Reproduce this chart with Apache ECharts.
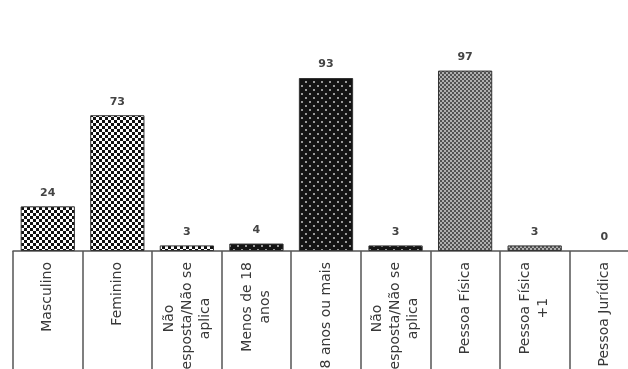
<!DOCTYPE html>
<html>
<head>
<meta charset="utf-8">
<script src="https://cdn.jsdelivr.net/npm/echarts@6/dist/echarts.min.js"></script>
<style>
  html, body { margin: 0; padding: 0; background: #fff; }
  #chart { width: 628px; height: 369px; }
</style>
</head>
<body>
<div id="chart"></div>
<script>
// Respondent profile: gender, age group and person type
const categories = [
  'Masculino',
  'Feminino',
  'Não\nresposta/Não se\naplica',
  'Menos de 18\nanos',
  '18 anos ou mais',
  'Não\nresposta/Não se\naplica',
  'Pessoa Física',
  'Pessoa Física\n+1',
  'Pessoa Jurídica'
];
const values = [24, 73, 3, 4, 93, 3, 97, 3, 0];
// Which fill pattern each category uses (0 = gender, 1 = age, 2 = person type)
const groups = [0, 0, 0, 1, 1, 1, 2, 2, 2];

// Tiled fill patterns drawn on small canvases
function makeTile(size, draw) {
  const c = document.createElement('canvas');
  c.width = size; c.height = size;
  draw(c.getContext('2d'));
  return { image: c, repeat: 'repeat' };
}
const patterns = [
  // black / white checkerboard
  makeTile(6, ctx => {
    ctx.fillStyle = '#ffffff'; ctx.fillRect(0, 0, 6, 6);
    ctx.fillStyle = '#111111';
    ctx.fillRect(0, 0, 3, 3); ctx.fillRect(3, 3, 3, 3);
  }),
  // black with staggered light dots
  makeTile(8, ctx => {
    ctx.fillStyle = '#141414'; ctx.fillRect(0, 0, 8, 8);
    ctx.fillStyle = '#9a9a9a';
    ctx.fillRect(1, 1, 2, 2); ctx.fillRect(5, 5, 2, 2);
  }),
  // fine grey checker
  makeTile(4, ctx => {
    ctx.fillStyle = '#b0b0b0'; ctx.fillRect(0, 0, 4, 4);
    ctx.fillStyle = '#525252';
    ctx.fillRect(0, 0, 2, 2); ctx.fillRect(2, 2, 2, 2);
  })
];

// Center each line of a multi-line label inside its block
function labelFormatter(v) {
  return v.split('\n').map(s => '{c|' + s + '}').join('\n');
}

const chart = echarts.init(document.getElementById('chart'), null, { renderer: 'canvas' });
chart.setOption({
  animation: false,
  backgroundColor: '#ffffff',
  grid: { left: 13, right: -11, top: 65, bottom: 118, containLabel: false, outerBoundsMode: 'none' },
  xAxis: {
    type: 'category',
    data: categories,
    boundaryGap: true,
    axisLine: { show: true, lineStyle: { color: '#555555', width: 1.5 } },
    axisTick: {
      show: true, interval: 0, alignWithLabel: false, length: 140,
      lineStyle: { color: '#555555', width: 1.5 }
    },
    axisLabel: {
      interval: 0,
      rotate: 90,
      margin: 11,
      color: '#383838',
      fontFamily: 'DejaVu Sans',
      fontSize: 14,
      lineHeight: 18,
      formatter: labelFormatter,
      rich: { c: { align: 'center', fontFamily: 'DejaVu Sans', fontSize: 14, color: '#383838', lineHeight: 18 } }
    },
    splitLine: { show: false }
  },
  yAxis: {
    type: 'value',
    min: 0,
    max: 100,
    show: false
  },
  series: [{
    type: 'bar',
    barCategoryGap: '22%',
    data: values.map((v, i) => ({
      value: v,
      itemStyle: {
        color: patterns[groups[i]],
        borderColor: '#333333',
        borderWidth: v > 0 ? 1 : 0
      }
    })),
    label: {
      show: true,
      position: 'top',
      distance: 8,
      color: '#444444',
      fontFamily: 'DejaVu Sans',
      fontSize: 11,
      fontWeight: 'bold'
    }
  }]
});
</script>
</body>
</html>
